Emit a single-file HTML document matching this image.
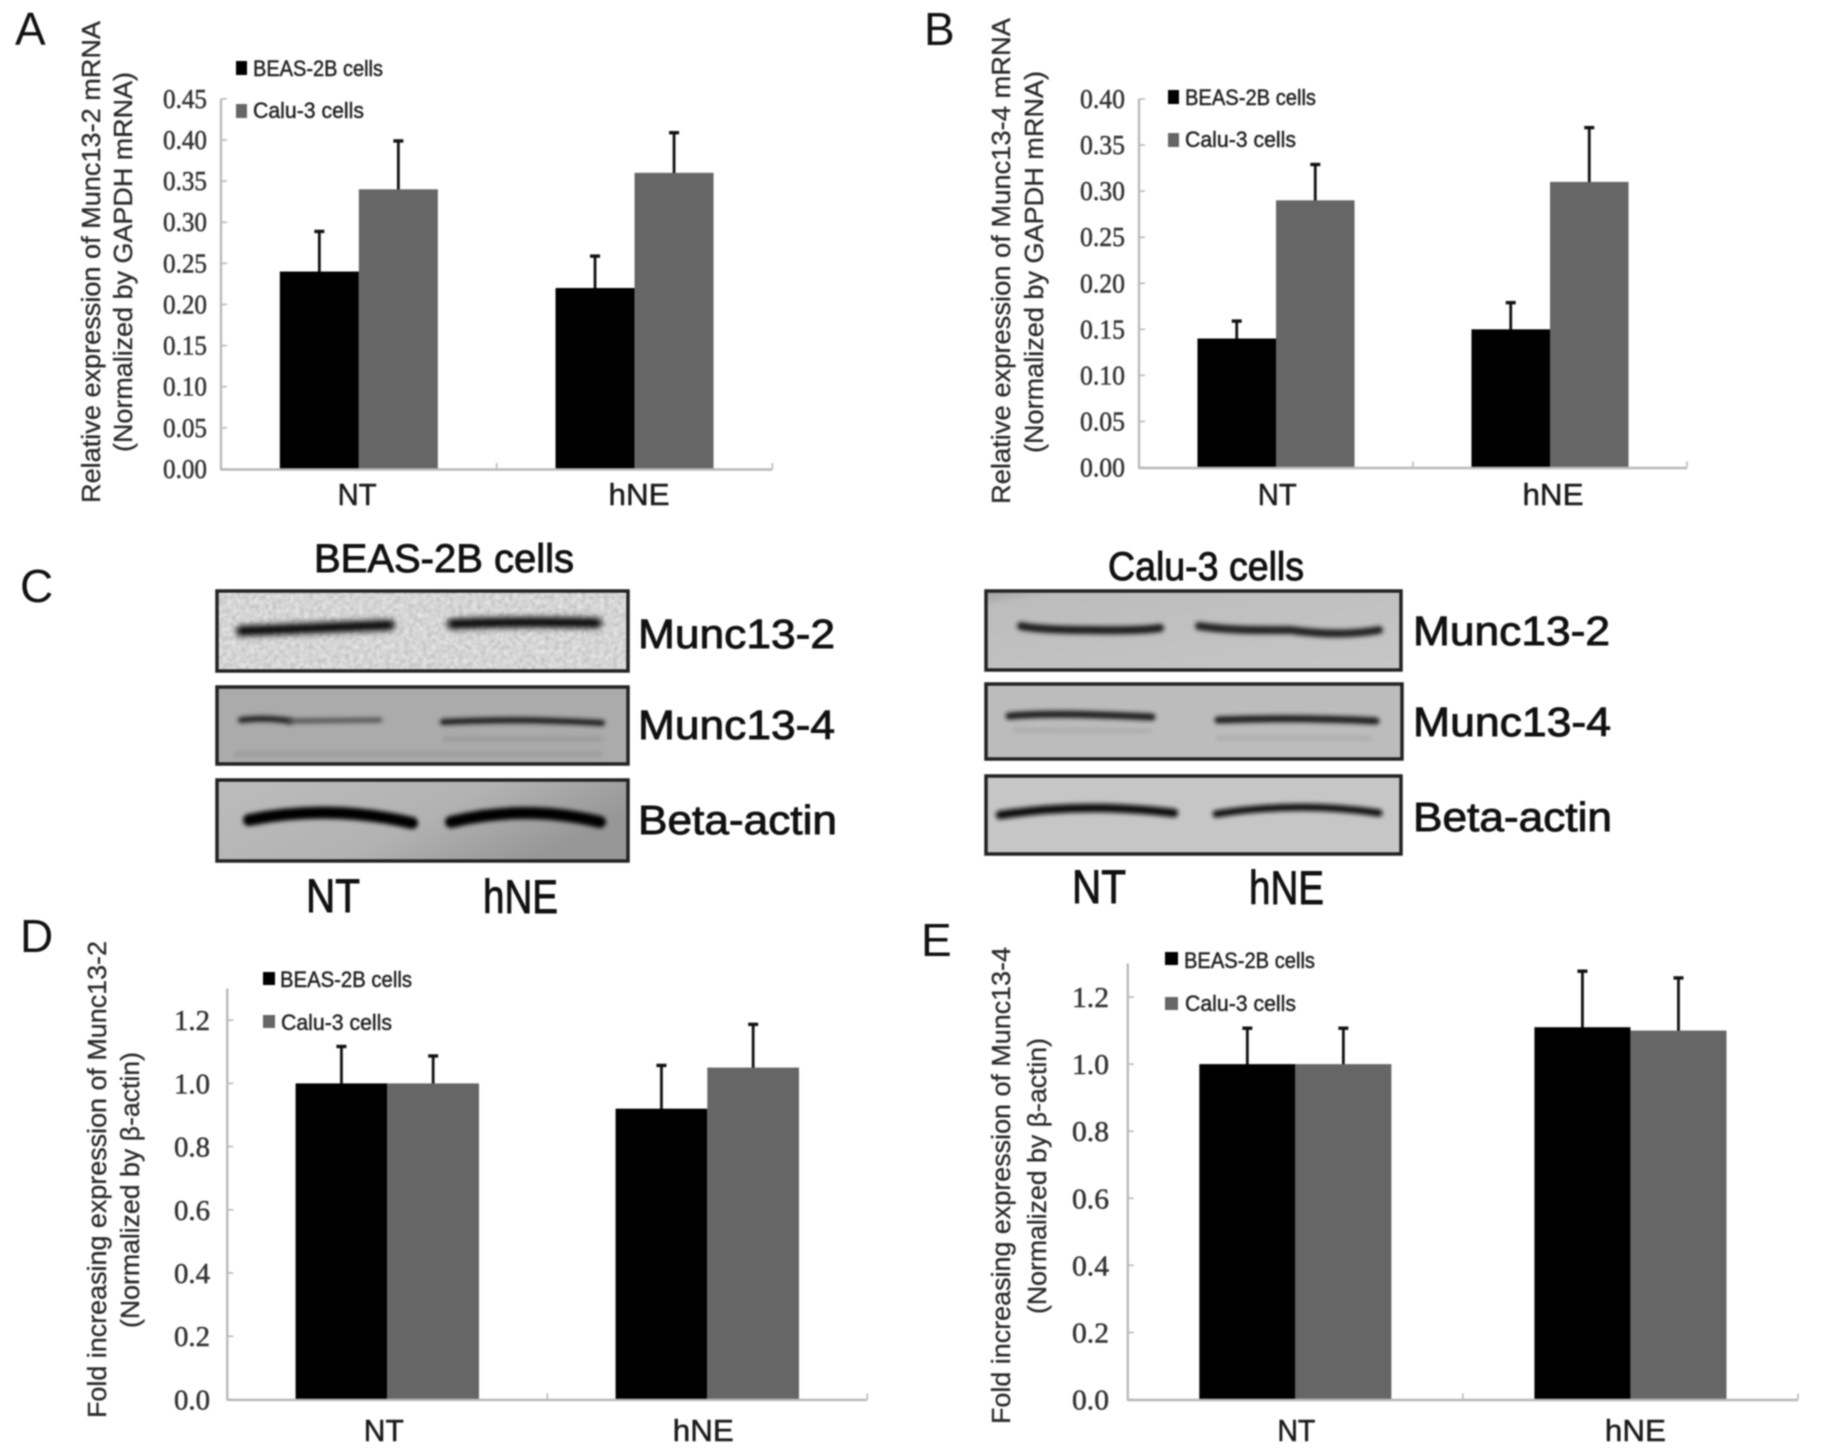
<!DOCTYPE html>
<html lang="en">
<head>
<meta charset="utf-8">
<title>Munc13-2 and Munc13-4 expression</title>
<style>
html,body{margin:0;padding:0;background:#fff;width:1831px;height:1456px;overflow:hidden}
#figure{display:block;width:1831px;height:1456px;filter:blur(0.8px)}
text{font-family:"Liberation Sans",sans-serif;fill:#111}
.letter{font-size:46px;fill:#111}
.ytitle{font-size:25.5px;fill:#2a2a2a;stroke:#2a2a2a;stroke-width:0.3}
.legend{font-size:22px;fill:#222;stroke:#222;stroke-width:0.45}
.blot-label{font-size:41px;fill:#111;stroke:#111;stroke-width:0.9}
.blot-title{font-size:40px;fill:#111;stroke:#111;stroke-width:0.9}
.blot-cat{font-size:47px;fill:#111;stroke:#111;stroke-width:0.9}
.box{stroke:#222;stroke-width:3.5}
.band{fill:none;stroke-linecap:round}
</style>
</head>
<body>
<svg id="figure" xmlns="http://www.w3.org/2000/svg" width="1831" height="1456" viewBox="0 0 1831 1456">
<defs>
<filter id="bandBlur" filterUnits="userSpaceOnUse" x="0" y="500" width="1831" height="420"><feGaussianBlur stdDeviation="3.2"/></filter>
<filter id="softBlur" filterUnits="userSpaceOnUse" x="0" y="500" width="1831" height="420"><feGaussianBlur stdDeviation="2.2"/></filter>
<filter id="noise" x="0" y="0" width="100%" height="100%">
<feTurbulence type="fractalNoise" baseFrequency="0.22" numOctaves="2" seed="4" result="n"/>
<feColorMatrix in="n" type="matrix" values="0 0 0 0 0.8  0 0 0 0 0.8  0 0 0 0 0.8  1.6 0 0 0 -0.35" result="m"/>
<feComposite in="m" in2="SourceGraphic" operator="in" result="c"/>
<feMerge><feMergeNode in="SourceGraphic"/><feMergeNode in="c"/></feMerge>
</filter>
<linearGradient id="c3" x1="0" y1="0" x2="1" y2="0.4"><stop offset="0" stop-color="#bcbcbc"/><stop offset="0.6" stop-color="#b2b2b2"/><stop offset="1" stop-color="#979797"/></linearGradient>
<linearGradient id="e1" x1="0" y1="0" x2="1" y2="1"><stop offset="0" stop-color="#9f9f9f"/><stop offset="0.1" stop-color="#bcbcbc"/><stop offset="1" stop-color="#c6c6c6"/></linearGradient>
</defs>

<text class="letter" x="15" y="45">A</text>
<text class="letter" x="924" y="45">B</text>
<text class="letter" x="20" y="602">C</text>
<text class="letter" x="20" y="952">D</text>
<text class="letter" x="921" y="956">E</text>

<text class="ytitle" transform="translate(100,503) rotate(-90)" textLength="482" lengthAdjust="spacingAndGlyphs">Relative expression of Munc13-2 mRNA</text>
<text class="ytitle" transform="translate(132,452) rotate(-90)" textLength="380" lengthAdjust="spacingAndGlyphs">(Normalized by GAPDH mRNA)</text>
<text class="ytitle" transform="translate(1010,504) rotate(-90)" textLength="486" lengthAdjust="spacingAndGlyphs">Relative expression of Munc13-4 mRNA</text>
<text class="ytitle" transform="translate(1043,453) rotate(-90)" textLength="382" lengthAdjust="spacingAndGlyphs">(Normalized by GAPDH mRNA)</text>
<text class="ytitle" transform="translate(106,1418) rotate(-90)" textLength="477" lengthAdjust="spacingAndGlyphs">Fold increasing expression of Munc13-2</text>
<text class="ytitle" transform="translate(139,1328) rotate(-90)" textLength="276" lengthAdjust="spacingAndGlyphs">(Normalized by β-actin)</text>
<text class="ytitle" transform="translate(1010,1424) rotate(-90)" textLength="477" lengthAdjust="spacingAndGlyphs">Fold increasing expression of Munc13-4</text>
<text class="ytitle" transform="translate(1046,1314) rotate(-90)" textLength="276" lengthAdjust="spacingAndGlyphs">(Normalized by β-actin)</text>

<g>
<rect x="236" y="61" width="11" height="14" fill="#000"/>
<text class="legend" x="253" y="76" textLength="130" lengthAdjust="spacingAndGlyphs">BEAS-2B cells</text>
<rect x="236" y="104" width="11" height="14" fill="#666"/>
<text class="legend" x="253" y="118" textLength="111" lengthAdjust="spacingAndGlyphs">Calu-3 cells</text>
</g>
<g>
<rect x="1168" y="90" width="11" height="14" fill="#000"/>
<text class="legend" x="1185" y="105" textLength="131" lengthAdjust="spacingAndGlyphs">BEAS-2B cells</text>
<rect x="1168" y="133" width="11" height="14" fill="#666"/>
<text class="legend" x="1185" y="147" textLength="111" lengthAdjust="spacingAndGlyphs">Calu-3 cells</text>
</g>
<g>
<rect x="263" y="972" width="12" height="13" fill="#000"/>
<text class="legend" x="280" y="987" textLength="132" lengthAdjust="spacingAndGlyphs">BEAS-2B cells</text>
<rect x="263" y="1015" width="12" height="13" fill="#666"/>
<text class="legend" x="281" y="1030" textLength="111" lengthAdjust="spacingAndGlyphs">Calu-3 cells</text>
</g>
<g>
<rect x="1165" y="952" width="13" height="13" fill="#000"/>
<text class="legend" x="1184" y="968" textLength="131" lengthAdjust="spacingAndGlyphs">BEAS-2B cells</text>
<rect x="1165" y="997" width="13" height="13" fill="#666"/>
<text class="legend" x="1185" y="1011" textLength="111" lengthAdjust="spacingAndGlyphs">Calu-3 cells</text>
</g>

<g>
<text class="blot-title" x="314" y="572" textLength="260" lengthAdjust="spacingAndGlyphs">BEAS-2B cells</text>
<g>
<rect x="217" y="591" width="411" height="80" fill="#c4c4c4" filter="url(#noise)"/>
<path class="band" d="M241 631 Q320 628 390 625" stroke="#000" stroke-width="10" filter="url(#bandBlur)"/>
<path class="band" d="M452 624 Q520 621 597 623" stroke="#000" stroke-width="10" filter="url(#bandBlur)"/>
<rect class="box" x="217" y="591" width="411" height="80" fill="none"/>
</g>
<g>
<rect x="217" y="687" width="411" height="77" fill="#ababab"/>
<path class="band" d="M241 720 Q265 717 290 721" stroke="#222" stroke-width="6" filter="url(#softBlur)"/>
<path class="band" d="M290 721 L380 720" stroke="#555" stroke-width="5" filter="url(#softBlur)"/>
<path class="band" d="M443 722 Q520 718 602 723" stroke="#1c1c1c" stroke-width="6" filter="url(#softBlur)"/>
<path class="band" d="M445 739 L600 739" stroke="#9c9c9c" stroke-width="6" filter="url(#softBlur)"/>
<path class="band" d="M236 754 L600 754" stroke="#9c9c9c" stroke-width="5" filter="url(#softBlur)"/>
<rect class="box" x="217" y="687" width="411" height="77" fill="none"/>
</g>
<g>
<rect x="217" y="780" width="411" height="81" fill="url(#c3)"/>
<path class="band" d="M249 820 Q330 804 412 823" stroke="#000" stroke-width="12" filter="url(#softBlur)"/>
<path class="band" d="M451 822 Q525 804 600 822" stroke="#000" stroke-width="12" filter="url(#softBlur)"/>
<rect class="box" x="217" y="780" width="411" height="81" fill="none"/>
</g>
<text class="blot-label" x="638" y="648" textLength="197" lengthAdjust="spacingAndGlyphs">Munc13-2</text>
<text class="blot-label" x="638" y="739" textLength="197" lengthAdjust="spacingAndGlyphs">Munc13-4</text>
<text class="blot-label" x="638" y="834" textLength="199" lengthAdjust="spacingAndGlyphs">Beta-actin</text>
<text class="blot-cat" x="306" y="912" textLength="54" lengthAdjust="spacingAndGlyphs">NT</text>
<text class="blot-cat" x="483" y="913" textLength="75" lengthAdjust="spacingAndGlyphs">hNE</text>
</g>

<g>
<text class="blot-title" x="1108" y="580" textLength="196" lengthAdjust="spacingAndGlyphs">Calu-3 cells</text>
<g>
<rect x="986" y="591" width="415" height="79" fill="url(#e1)"/>
<path class="band" d="M1021 626 Q1040 630 1090 630 Q1140 631 1160 628" stroke="#1a1a1a" stroke-width="8" filter="url(#softBlur)"/>
<path class="band" d="M1199 626 Q1230 631 1290 630 Q1340 637 1379 630" stroke="#222" stroke-width="8" filter="url(#softBlur)"/>
<rect class="box" x="986" y="591" width="415" height="79" fill="none"/>
</g>
<g>
<rect x="986" y="684" width="416" height="75" fill="#bcbcbc"/>
<path class="band" d="M1009 716 Q1050 712 1152 717" stroke="#1c1c1c" stroke-width="7" filter="url(#softBlur)"/>
<path class="band" d="M1218 720 Q1300 717 1376 721" stroke="#1c1c1c" stroke-width="7" filter="url(#softBlur)"/>
<path class="band" d="M1015 730 L1150 731" stroke="#aaa" stroke-width="4" filter="url(#softBlur)"/>
<path class="band" d="M1218 738 L1370 738" stroke="#aaa" stroke-width="4" filter="url(#softBlur)"/>
<rect class="box" x="986" y="684" width="416" height="75" fill="none"/>
</g>
<g>
<rect x="986" y="776" width="415" height="78" fill="#c6c6c6"/>
<path class="band" d="M1000 815 Q1085 802 1174 813" stroke="#111" stroke-width="8.5" filter="url(#softBlur)"/>
<path class="band" d="M1216 814 Q1300 801 1379 813" stroke="#111" stroke-width="7" filter="url(#softBlur)"/>
<rect class="box" x="986" y="776" width="415" height="78" fill="none"/>
</g>
<text class="blot-label" x="1413" y="645" textLength="197" lengthAdjust="spacingAndGlyphs">Munc13-2</text>
<text class="blot-label" x="1413" y="736" textLength="198" lengthAdjust="spacingAndGlyphs">Munc13-4</text>
<text class="blot-label" x="1413" y="831" textLength="199" lengthAdjust="spacingAndGlyphs">Beta-actin</text>
<text class="blot-cat" x="1072" y="903" textLength="54" lengthAdjust="spacingAndGlyphs">NT</text>
<text class="blot-cat" x="1249" y="904" textLength="75" lengthAdjust="spacingAndGlyphs">hNE</text>
</g>

<g id="charts"></g>
</svg>

<script>
// Shared categories
const categories = ['NT', 'hNE'];

// Panel A: Munc13-2 mRNA
const panelATicks = ['0.00', '0.05', '0.10', '0.15', '0.20', '0.25', '0.30', '0.35', '0.40', '0.45'];
const panelABeas = [0.24, 0.22];
const panelABeasErrorTop = [0.29, 0.26];
const panelACalu = [0.34, 0.36];
const panelACaluErrorTop = [0.40, 0.41];

// Panel B: Munc13-4 mRNA
const panelBTicks = ['0.00', '0.05', '0.10', '0.15', '0.20', '0.25', '0.30', '0.35', '0.40'];
const panelBBeas = [0.14, 0.15];
const panelBBeasErrorTop = [0.16, 0.18];
const panelBCalu = [0.29, 0.31];
const panelBCaluErrorTop = [0.33, 0.37];

// Panel D: Munc13-2 protein
const panelDTicks = ['0.0', '0.2', '0.4', '0.6', '0.8', '1.0', '1.2'];
const panelDBeas = [1.0, 0.92];
const panelDBeasErrorTop = [1.12, 1.06];
const panelDCalu = [1.0, 1.05];
const panelDCaluErrorTop = [1.09, 1.19];

// Panel E: Munc13-4 protein
const panelETicks = ['0.0', '0.2', '0.4', '0.6', '0.8', '1.0', '1.2'];
const panelEBeas = [1.0, 1.11];
const panelEBeasErrorTop = [1.11, 1.28];
const panelECalu = [1.0, 1.10];
const panelECaluErrorTop = [1.11, 1.26];

const SVGNS = 'http://www.w3.org/2000/svg';

function make(parent, tag, props, content) {
  const el = document.createElementNS(SVGNS, tag);
  Object.keys(props).forEach(function (k) { el.setAttribute(k, props[k]); });
  if (content !== undefined) el.textContent = content;
  parent.appendChild(el);
  return el;
}

function drawChart(chart) {
  const root = document.getElementById('charts');
  const g = make(root, 'g', {});
  
  

  const catWidth = (chart.x1 - chart.x0) / chart.categories.length;
  const barWidth = catWidth * 0.2866;
  const yPx = function (v) { return chart.y0 - (v / chart.yMax) * (chart.y0 - chart.yTop); };
  const xBar = function (cat, series) { return chart.x0 + catWidth * (cat + 0.5) + (series - 1) * barWidth; };

  // bars and error bars
  const series = [
    { key: 'beas', values: chart.beas, tops: chart.beasTop, fill: '#000' },
    { key: 'calu', values: chart.calu, tops: chart.caluTop, fill: '#666' }
  ];
  series.forEach(function (s, si) {
    s.values.forEach(function (v, ci) {
      const bx = xBar(ci, si);
      const cx = bx + barWidth / 2;
      const errLine = make(g, 'line', { x1: cx, x2: cx, y1: yPx(v) + 2, y2: yPx(s.tops[ci]), stroke: '#111', 'stroke-width': 2.8 });
      
      
      const errCap = make(g, 'line', { x1: cx - 5, x2: cx + 5, y1: yPx(s.tops[ci]) + 1, y2: yPx(s.tops[ci]) + 1, stroke: '#111', 'stroke-width': 3.4 });
      
      
      const bar = make(g, 'rect', { x: bx, y: yPx(v), width: barWidth, height: chart.y0 - yPx(v), fill: s.fill });
      
      
    });
  });

  // axes
  const axisColor = '#b9b9b9';
  const yAxis = make(g, 'line', { x1: chart.x0, x2: chart.x0, y1: chart.yTop, y2: chart.y0 + 1.2, stroke: axisColor, 'stroke-width': 2.4 });
  
  
  const xAxis = make(g, 'line', { x1: chart.x0, x2: chart.x1, y1: chart.y0 + 0.5, y2: chart.y0 + 0.5, stroke: axisColor, 'stroke-width': 2.4 });
  
  

  // y ticks and labels
  chart.ticks.forEach(function (label) {
    const v = parseFloat(label);
    const tick = make(g, 'line', { x1: chart.x0, x2: chart.x0 + 6, y1: yPx(v), y2: yPx(v), stroke: axisColor, 'stroke-width': 1.6 });
    
    
    const txt = make(g, 'text', {
      x: chart.tickLabelRight, y: yPx(v) + chart.tickBaseline, 'text-anchor': 'end',
      textLength: chart.tickLabelWidth, lengthAdjust: 'spacingAndGlyphs',
      style: 'font-family:"Liberation Serif",serif;font-size:' + chart.tickFont + 'px;fill:#333;stroke:#333;stroke-width:0.5'
    }, label);
    
    
  });

  // x ticks and category labels
  for (let i = 1; i <= chart.categories.length; i++) {
    const tx = chart.x0 + catWidth * i;
    const xTick = make(g, 'line', { x1: tx, x2: tx, y1: chart.y0 - 6, y2: chart.y0, stroke: axisColor, 'stroke-width': 1.6 });
    
    
  }
  chart.categories.forEach(function (c, i) {
    const cx = chart.x0 + catWidth * (i + 0.5) + chart.catOffset[i];
    const w = c === 'NT' ? chart.ntWidth : chart.hneWidth;
    const cat = make(g, 'text', {
      x: cx, y: chart.catBaseline, 'text-anchor': 'middle',
      textLength: w, lengthAdjust: 'spacingAndGlyphs',
      style: 'font-size:' + chart.catFont + 'px;fill:#1a1a1a;stroke:#1a1a1a;stroke-width:0.5'
    }, c);
    
    
  });
}

drawChart({
  name: 'panel-a-chart', categories: categories, ticks: panelATicks,
  beas: panelABeas, beasTop: panelABeasErrorTop, calu: panelACalu, caluTop: panelACaluErrorTop,
  x0: 221, x1: 772.4, y0: 469, yTop: 98.8, yMax: 0.45,
  tickLabelRight: 207, tickLabelWidth: 44, tickFont: 27, tickBaseline: 9,
  catOffset: [-1.7, 4.5], ntWidth: 39, hneWidth: 61, catFont: 31, catBaseline: 505
});
drawChart({
  name: 'panel-b-chart', categories: categories, ticks: panelBTicks,
  beas: panelBBeas, beasTop: panelBBeasErrorTop, calu: panelBCalu, caluTop: panelBCaluErrorTop,
  x0: 1139, x1: 1687, y0: 467.5, yTop: 99, yMax: 0.40,
  tickLabelRight: 1125, tickLabelWidth: 45, tickFont: 27, tickBaseline: 9,
  catOffset: [1.3, 3], ntWidth: 39, hneWidth: 61, catFont: 31, catBaseline: 505
});
drawChart({
  name: 'panel-d-chart', categories: categories, ticks: panelDTicks,
  beas: panelDBeas, beasTop: panelDBeasErrorTop, calu: panelDCalu, caluTop: panelDCaluErrorTop,
  x0: 227.3, x1: 867.3, y0: 1399.4, yTop: 988.6, yMax: 1.3,
  tickLabelRight: 210, tickLabelWidth: 36, tickFont: 29, tickBaseline: 10,
  catOffset: [-3.5, -4], ntWidth: 40, hneWidth: 61, catFont: 31, catBaseline: 1441
});
drawChart({
  name: 'panel-e-chart', categories: categories, ticks: panelETicks,
  beas: panelEBeas, beasTop: panelEBeasErrorTop, calu: panelECalu, caluTop: panelECaluErrorTop,
  x0: 1127.8, x1: 1798, y0: 1399.5, yTop: 963.5, yMax: 1.3,
  tickLabelRight: 1109, tickLabelWidth: 37, tickFont: 29, tickBaseline: 10,
  catOffset: [1, 5], ntWidth: 38, hneWidth: 61, catFont: 31, catBaseline: 1441
});
</script>
</body>
</html>
